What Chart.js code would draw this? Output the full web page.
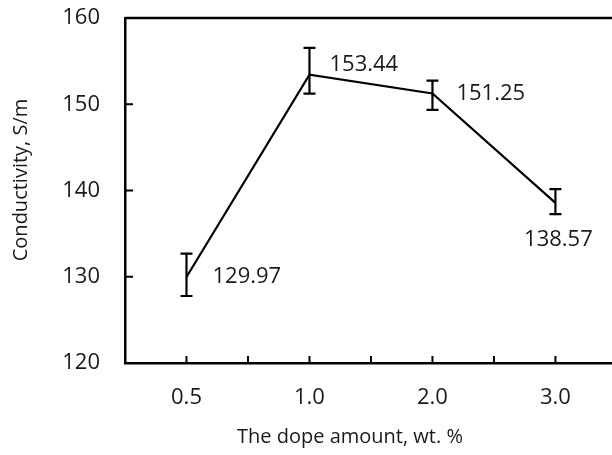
<!DOCTYPE html>
<html>
<head>
<meta charset="utf-8">
<script src="https://cdn.jsdelivr.net/npm/chart.js@4/dist/chart.umd.min.js"></script>
<style>
	body { margin: 0; background: #fff; }
	canvas { display: block; }
</style>
</head>
<body>
<canvas id="myChart" width="612" height="455"></canvas>
<script>
// Data
const categories = ["0.5", "1.0", "2.0", "3.0"];
const conductivity = [129.97, 153.44, 151.25, 138.57];
const errPlus = [2.7, 3.1, 1.5, 1.6];
const errMinus = [2.2, 2.2, 1.9, 1.3];
const yTicks = [120, 130, 140, 150, 160];

// where each value label sits relative to its point (dx, dy, align)
const labelOffsets = [
	[26, 0, "left"],
	[20, -10, "left"],
	[24, 0, "left"],
	[3, 37, "center"],
];

const textColor = "#1a1a1a";
const fontFamily = "'Open Sans', sans-serif";
const numberFont = 22;
const titleFont = 20;

// Inward ticks, top frame, error bars, value labels and axis titles
const decorations = {
	id: "decorations",
	afterDatasetsDraw(chart) {
		const { ctx, chartArea, scales } = chart;
		const xs = scales.x;
		const ys = scales.y;
		ctx.save();
		ctx.strokeStyle = "#000";

		// top frame line
		ctx.lineWidth = 2.5;
		ctx.beginPath();
		ctx.moveTo(chartArea.left, chartArea.top);
		ctx.lineTo(chartArea.right, chartArea.top);
		ctx.stroke();

		// inward tick marks
		ctx.lineWidth = 2;
		xs.ticks.forEach((t) => {
			const px = xs.getPixelForValue(t.value);
			ctx.beginPath();
			ctx.moveTo(px, chartArea.bottom);
			ctx.lineTo(px, chartArea.bottom - 7);
			ctx.stroke();
		});
		yTicks.forEach((v) => {
			const py = ys.getPixelForValue(v);
			ctx.beginPath();
			ctx.moveTo(chartArea.left, py);
			ctx.lineTo(chartArea.left + 8, py);
			ctx.stroke();
		});

		// error bars
		ctx.lineWidth = 2.2;
		conductivity.forEach((v, i) => {
			const px = xs.getPixelForValue(i + 0.5);
			const top = ys.getPixelForValue(v + errPlus[i]);
			const bot = ys.getPixelForValue(v - errMinus[i]);
			ctx.beginPath();
			ctx.moveTo(px, top);
			ctx.lineTo(px, bot);
			ctx.moveTo(px - 6, top);
			ctx.lineTo(px + 6, top);
			ctx.moveTo(px - 6, bot);
			ctx.lineTo(px + 6, bot);
			ctx.stroke();
		});

		// value labels
		ctx.fillStyle = textColor;
		ctx.font = numberFont + "px " + fontFamily;
		ctx.textBaseline = "middle";
		conductivity.forEach((v, i) => {
			const px = xs.getPixelForValue(i + 0.5);
			const py = ys.getPixelForValue(v);
			const off = labelOffsets[i];
			ctx.textAlign = off[2];
			ctx.fillText(v.toFixed(2), px + off[0], py + off[1]);
		});

		// axis titles
		ctx.font = titleFont + "px " + fontFamily;
		ctx.textAlign = "center";
		ctx.fillText("The dope amount, wt. %", 350, 437);
		ctx.translate(21, 180);
		ctx.rotate(-Math.PI / 2);
		ctx.fillText("Conductivity, S/m", 0, 0);
		ctx.restore();
	},
};

const data = {
	datasets: [
		{
			label: "Conductivity",
			data: conductivity.map((v, i) => ({ x: i + 0.5, y: v })),
			borderColor: "#000",
			borderWidth: 2.2,
			pointRadius: 0,
			tension: 0,
			fill: false,
		},
	],
};

const config = {
	type: "line",
	data: data,
	options: {
		responsive: false,
		animation: false,
		devicePixelRatio: 1,
		layout: { padding: { top: 18, right: 0, left: 0, bottom: 0 } },
		plugins: {
			legend: { display: false },
			tooltip: { enabled: false },
		},
		scales: {
			x: {
				type: "linear",
				min: 0,
				max: 3.96,
				afterBuildTicks: (scale) => {
					const ticks = [];
					categories.forEach((c, i) => {
						ticks.push({ value: i });
						ticks.push({ value: i + 0.5 });
					});
					scale.ticks = ticks;
				},
				afterFit: (scale) => {
					scale.height = 92;
					scale.paddingLeft = 0;
					scale.paddingRight = 0;
				},
				grid: { display: false, drawTicks: false },
				border: { display: true, color: "#000", width: 2.5 },
				ticks: {
					autoSkip: false,
					maxRotation: 0,
					padding: 22,
					color: textColor,
					font: { family: fontFamily, size: numberFont },
					callback: (value) => {
						const idx = value - 0.5;
						if (Number.isInteger(idx) && idx >= 0 && idx < categories.length) {
							return categories[idx];
						}
						return "";
					},
				},
			},
			y: {
				min: 120,
				max: 160,
				afterFit: (scale) => {
					scale.width = 125;
					scale.paddingTop = 0;
					scale.paddingBottom = 0;
				},
				grid: { display: false, drawTicks: false },
				border: { display: true, color: "#000", width: 2.5 },
				ticks: {
					stepSize: 10,
					padding: 25,
					color: textColor,
					font: { family: fontFamily, size: numberFont },
				},
			},
		},
	},
	plugins: [decorations],
};

var myChart = new Chart(document.getElementById("myChart"), config);
</script>
</body>
</html>
